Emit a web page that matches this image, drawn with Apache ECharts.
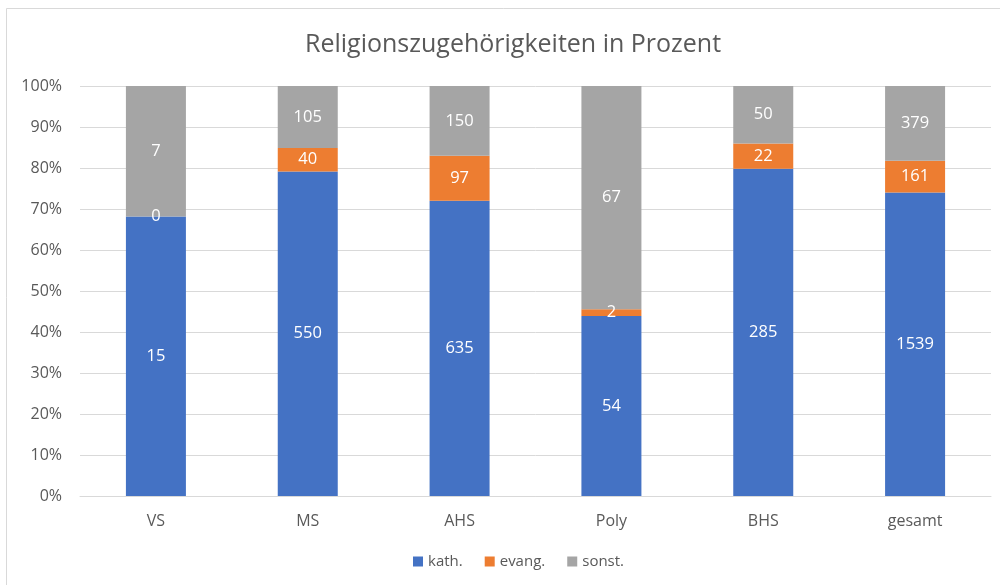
<!DOCTYPE html>
<html>
<head>
<meta charset="utf-8">
<script src="https://cdn.jsdelivr.net/npm/echarts@6/dist/echarts.min.js"></script>
<style>html,body{margin:0;padding:0;background:#fff;}#c{width:1000px;height:585px;}</style>
</head>
<body>
<div id="c"></div>
<script>
const categories = ['VS', 'MS', 'AHS', 'Poly', 'BHS', 'gesamt'];
const kath = [15, 550, 635, 54, 285, 1539];
const evang = [0, 40, 97, 2, 22, 161];
const sonst = [7, 105, 150, 67, 50, 379];
const yTicks = [0, 10, 20, 30, 40, 50, 60, 70, 80, 90, 100];

const totals = categories.map((_, i) => kath[i] + evang[i] + sonst[i]);
const share = arr => arr.map((v, i) => ({ value: v / totals[i] * 100, count: v }));

const font = 'Open Sans';
const labelCfg = {
  show: true, position: 'inside', color: '#ffffff', fontSize: 16.5, fontFamily: font,
  formatter: p => p.data.count
};
function mk(name, arr, color) {
  return { name, type: 'bar', stack: 'all', data: share(arr), barWidth: 60,
    itemStyle: { color }, label: labelCfg, emphasis: { disabled: true } };
}

const chart = echarts.init(document.getElementById('c'), null, { renderer: 'canvas' });
chart.setOption({
  animation: false,
  backgroundColor: '#ffffff',
  graphic: [{ type: 'rect', shape: { x: 6.5, y: 8.5, width: 1000, height: 600 },
    style: { fill: 'none', stroke: '#d9d9d9', lineWidth: 1 }, silent: true, z: -1 }],
  title: { text: 'Religionszugehörigkeiten in Prozent', left: 300, top: 27,
    textStyle: { color: '#595959', fontSize: 25, fontWeight: 'normal', fontFamily: font } },
  legend: { bottom: 11, left: 408, itemWidth: 10, itemHeight: 10, itemGap: 22, icon: 'rect',
    textStyle: { color: '#595959', fontSize: 15, fontFamily: font },
    data: ['kath.', 'evang.', 'sonst.'] },
  grid: { left: 80, right: 9, top: 86, bottom: 89, containLabel: false },
  xAxis: { type: 'category', data: categories,
    axisLine: { show: true, lineStyle: { color: '#d9d9d9' } }, axisTick: { show: false },
    axisLabel: { color: '#595959', fontSize: 16, fontFamily: font, margin: 17 } },
  yAxis: { type: 'value', min: 0, max: 100, interval: 10,
    axisLine: { show: false }, axisTick: { show: false },
    splitLine: { lineStyle: { color: '#d9d9d9' } },
    axisLabel: { color: '#595959', fontSize: 16, fontFamily: font, margin: 18,
      formatter: v => yTicks.includes(v) ? v + '%' : '' } },
  series: [mk('kath.', kath, '#4472C4'), mk('evang.', evang, '#ED7D31'), mk('sonst.', sonst, '#A5A5A5')]
});
</script>
</body>
</html>
